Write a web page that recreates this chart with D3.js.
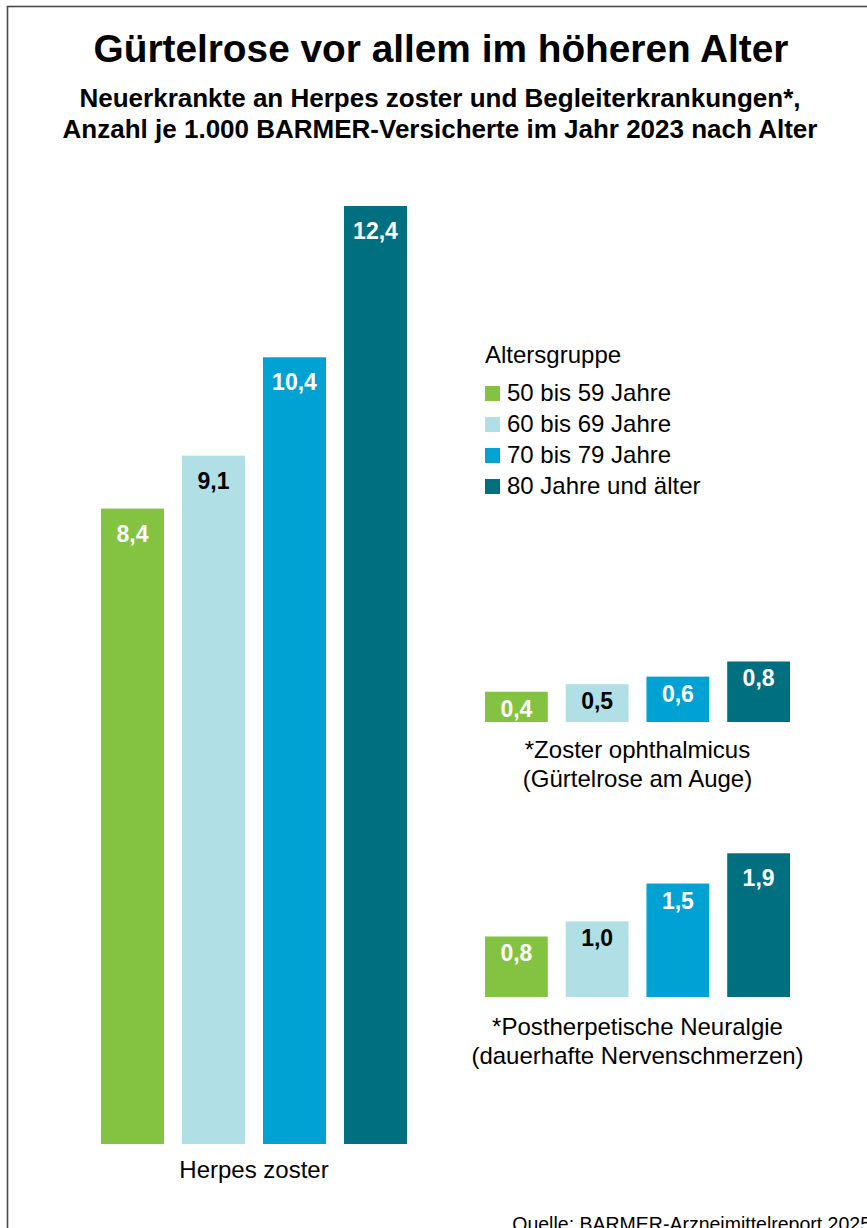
<!DOCTYPE html>
<html>
<head>
<meta charset="utf-8">
<script src="https://cdn.jsdelivr.net/npm/d3@7"></script>
<style>
  html, body { margin: 0; padding: 0; background: #fff; }
  svg { display: block; font-family: "Liberation Sans", Arial, Helvetica, sans-serif; }
</style>
</head>
<body>
<svg id="chart" width="867" height="1228"></svg>
<script>
// ---- data ----
const ageGroups = ["50 bis 59 Jahre", "60 bis 69 Jahre", "70 bis 79 Jahre", "80 Jahre und älter"];
const groupColors = ["#84c341", "#b0dfe5", "#00a1d3", "#006f80"];
const valueLabelColors = ["#ffffff", "#000000", "#ffffff", "#ffffff"];
const herpesZoster = [8.4, 9.1, 10.4, 12.4];
const zosterOphthalmicus = [0.4, 0.5, 0.6, 0.8];
const postherpetischeNeuralgie = [0.8, 1.0, 1.5, 1.9];
const titleText = "Gürtelrose vor allem im höheren Alter";
const subtitleLines = ["Neuerkrankte an Herpes zoster und Begleiterkrankungen*,",
                       "Anzahl je 1.000 BARMER-Versicherte im Jahr 2023 nach Alter"];
const legendTitle = "Altersgruppe";
const herpesLabel = ["Herpes zoster"];
const ophthLabel = ["*Zoster ophthalmicus", "(Gürtelrose am Auge)"];
const neuralgieLabel = ["*Postherpetische Neuralgie", "(dauerhafte Nervenschmerzen)"];
const sourceText = "Quelle: BARMER-Arzneimittelreport 2025";

// ---- setup ----
const svg = d3.select("#chart");
const de = d3.formatLocale({decimal: ",", thousands: ".", grouping: [3], currency: ["", " €"]});
const fmt = de.format(".1f");

// frame
svg.append("rect")
  .attr("x", 7.5).attr("y", 6.5)
  .attr("width", 868).attr("height", 1240)
  .attr("fill", "none").attr("stroke", "#4a4a4a").attr("stroke-width", 1.6);

// titles
svg.append("text")
  .attr("x", 441).attr("y", 62)
  .attr("text-anchor", "middle")
  .attr("font-size", 38.8).attr("font-weight", "bold").attr("fill", "#000")
  .text(titleText);

svg.selectAll("text.sub").data(subtitleLines).enter().append("text")
  .attr("class", "sub")
  .attr("x", 440).attr("y", (d, i) => 107 + i * 31)
  .attr("text-anchor", "middle")
  .attr("font-size", 26).attr("font-weight", "bold").attr("fill", "#000")
  .text(d => d);

// shared value scale
const h = d3.scaleLinear().domain([0, 12.4]).range([0, 938]);

function panel(values, x0, x1, baseline, labels, labelY) {
  const x = d3.scaleBand().domain(ageGroups).range([x0, x1]).paddingInner(18 / 81).paddingOuter(0);
  const g = svg.append("g");
  const data = values.map((v, i) => ({v, i, k: ageGroups[i]}));
  g.selectAll("rect").data(data).enter().append("rect")
    .attr("x", d => x(d.k))
    .attr("y", d => baseline - h(d.v))
    .attr("width", x.bandwidth())
    .attr("height", d => h(d.v))
    .attr("fill", d => groupColors[d.i]);
  g.selectAll("text.val").data(data).enter().append("text")
    .attr("class", "val")
    .attr("x", d => x(d.k) + x.bandwidth() / 2)
    .attr("y", d => baseline - h(d.v) + (h(d.v) > 130 ? 33 : 25))
    .attr("text-anchor", "middle")
    .attr("font-size", 23).attr("font-weight", "bold")
    .attr("fill", d => valueLabelColors[d.i])
    .text(d => fmt(d.v));
  const cx = (x0 + x1) / 2;
  g.selectAll("text.cat").data(labels).enter().append("text")
    .attr("class", "cat")
    .attr("x", cx)
    .attr("y", (d, i) => labelY + i * 29)
    .attr("text-anchor", "middle")
    .attr("font-size", 24).attr("fill", "#000")
    .text(d => d);
}

panel(herpesZoster, 101, 407, 1144, herpesLabel, 1178);
panel(zosterOphthalmicus, 485, 790, 722, ophthLabel, 758);
panel(postherpetischeNeuralgie, 485, 790, 997, neuralgieLabel, 1035);

// legend
const lg = svg.append("g").attr("transform", "translate(485,363)");
lg.append("text").attr("x", 0).attr("y", 0)
  .attr("font-size", 24).attr("fill", "#000").text(legendTitle);
const items = lg.selectAll("g.item").data(ageGroups).enter().append("g")
  .attr("class", "item")
  .attr("transform", (d, i) => `translate(0,${38 + i * 31})`);
items.append("rect").attr("x", 0).attr("y", -15).attr("width", 15).attr("height", 15)
  .attr("fill", (d, i) => groupColors[i]);
items.append("text").attr("x", 22).attr("y", 0)
  .attr("font-size", 24).attr("fill", "#000").text(d => d);

// source (cut at the bottom edge, as in the reference)
svg.append("text")
  .attr("x", 871).attr("y", 1231)
  .attr("text-anchor", "end")
  .attr("font-size", 19.5).attr("fill", "#000")
  .text(sourceText);
</script>
</body>
</html>
